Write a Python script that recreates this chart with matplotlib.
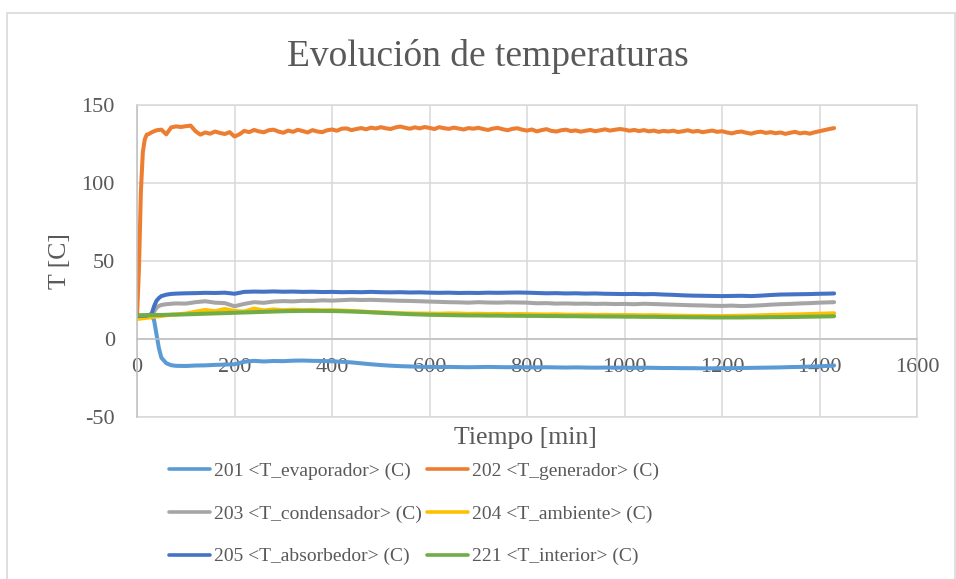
import numpy as np
import matplotlib
matplotlib.use('Agg')
import matplotlib.pyplot as plt
from matplotlib.patches import Rectangle

plt.rcParams['font.family'] = ['Liberation Serif', 'DejaVu Serif']
plt.rcParams['axes.unicode_minus'] = False
TXT = '#595959'

# tiempo [min] de las series lentas
t = [0, 10, 20, 30, 35, 40, 45, 50, 60, 70, 80,
     100, 120, 140, 160, 180, 200, 220, 240, 260, 280, 300, 320, 340, 360, 380,
     400, 420, 440, 460, 480, 500, 520, 540, 560, 580, 600,
     620, 640, 660, 680, 700, 720, 740, 760, 780,
     800, 820, 840, 860, 880, 900, 920, 940, 960, 980, 1000,
     1020, 1040, 1060, 1080, 1100, 1120, 1140, 1160, 1180, 1200,
     1220, 1240, 1260, 1280, 1300, 1320, 1340, 1360, 1380, 1400, 1420, 1430]

# tiempo [min] del generador (registro mas fino)
t_gen = [0, 4, 8, 12, 16, 20, 25] + list(range(30, 1431, 10))

t_evaporador = [14.5, 14.6, 14.8, 15.2, 12.0, 3.0, -6.0, -12.0, -15.5, -16.8, -17.2,
                -17.3, -17.0, -16.9, -16.6, -16.4, -16.2, -14.6, -14.0, -14.4, -14.1, -14.2, -13.9, -13.8,
                -14.0, -14.1, -14.3, -14.6, -15.0, -15.6, -16.2, -16.7, -17.1, -17.4, -17.6, -17.8, -17.9,
                -18.0, -17.9, -18.0, -18.1, -18.0, -17.9, -18.0, -18.1, -18.0,
                -18.1, -18.2, -18.1, -18.2, -18.3, -18.2, -18.3, -18.4, -18.3, -18.4, -18.4,
                -18.5, -18.4, -18.5, -18.6, -18.6, -18.7, -18.7, -18.8, -18.8, -18.7,
                -18.7, -18.6, -18.5, -18.4, -18.3, -18.2, -18.0, -17.9, -17.7, -17.5, -17.2, -17.0]

t_generador = [14.0, 45.0, 95.0, 120.0, 128.0, 131.0, 131.5,
               132.5, 133.8, 134.2, 131.2, 135.6, 136.3, 135.9,
               136.4, 136.8, 133.2, 131.0, 132.4, 131.6, 133.0, 132.1, 131.4, 132.6,
               129.8, 131.2, 133.4, 132.6, 134.0, 133.1, 132.5, 133.8, 134.2, 133.0,
               132.2, 133.6, 132.8, 134.1, 133.3, 132.4, 133.9, 133.0, 132.6, 133.8,
               134.3, 133.5, 134.8, 135.0, 133.9, 134.6, 135.2, 134.4, 135.5, 134.9,
               135.8, 135.1, 134.6, 135.6, 136.2, 135.4, 134.8, 135.7, 135.0, 135.9,
               135.3, 134.6, 135.8, 135.1, 134.7, 135.5, 134.9, 134.3, 135.2, 134.8,
               135.4, 134.6, 134.0, 134.9, 135.3, 134.5, 133.8, 134.7, 135.1, 134.2,
               133.6, 134.3, 133.1, 133.9, 134.5, 133.4, 133.0, 133.8, 134.2, 133.3,
               133.7, 132.9, 133.5, 134.0, 133.2, 133.8, 134.4, 133.6, 134.1, 134.6,
               134.2, 133.5, 134.0, 133.3, 133.9, 133.1, 133.6, 132.8, 133.4, 133.0,
               133.5, 132.7, 133.2, 133.8, 132.9, 133.4, 132.6, 133.1, 133.6, 132.8,
               133.2, 132.4, 131.8, 132.6, 133.0, 132.2, 131.6, 132.5, 132.9, 132.1,
               132.6, 131.9, 132.4, 131.5, 132.2, 132.8, 131.8, 132.3, 131.6, 132.5,
               133.2, 133.9, 134.6, 135.2]

t_condensador = [14.8, 14.9, 15.0, 15.3, 17.5, 20.0, 21.2, 21.8, 22.3, 22.6, 22.8,
                 22.7, 23.6, 24.2, 23.3, 23.0, 21.0, 22.5, 23.6, 23.2, 24.0, 24.3, 24.1, 24.5,
                 24.4, 24.8, 24.6, 24.9, 25.2, 25.0, 25.1, 24.9, 24.7, 24.5, 24.4, 24.2, 24.0,
                 23.8, 23.6, 23.5, 23.3, 23.6, 23.4, 23.3, 23.5, 23.4,
                 23.3, 22.9, 23.0, 22.7, 22.8, 22.6, 22.7, 22.5, 22.6, 22.4, 22.5,
                 22.3, 22.6, 22.4, 22.2, 22.0, 21.8, 21.6, 21.5, 21.3, 21.2,
                 21.4, 21.1, 21.3, 21.6, 22.0, 22.3, 22.5, 22.8, 23.0, 23.3, 23.5, 23.6]

t_ambiente = [12.8, 13.2, 13.6, 14.0, 14.2, 14.4, 14.6, 14.8, 15.2, 15.5, 15.8,
              16.3, 17.5, 18.6, 17.8, 19.2, 18.0, 17.6, 19.5, 18.3, 19.0, 18.4, 18.8, 18.5,
              18.7, 18.3, 18.5, 18.2, 18.0, 17.6, 17.3, 17.0, 16.8, 16.5, 16.4, 16.3, 16.3,
              16.2, 16.4, 16.3, 16.1, 16.2, 16.0, 16.1, 15.9, 16.0,
              15.9, 15.8, 15.7, 15.8, 15.6, 15.5, 15.6, 15.4, 15.5, 15.3, 15.4,
              15.3, 15.2, 15.3, 15.1, 15.0, 14.9, 14.8, 14.8, 14.7, 14.7,
              14.8, 14.9, 15.0, 15.2, 15.4, 15.5, 15.7, 15.8, 16.0, 16.2, 16.4, 16.5]

t_absorbedor = [14.8, 14.9, 15.0, 16.0, 21.0, 24.5, 26.3, 27.5, 28.4, 28.9, 29.1,
                29.3, 29.4, 29.6, 29.5, 29.7, 29.0, 30.2, 30.4, 30.3, 30.5, 30.3, 30.4, 30.2,
                30.3, 30.1, 30.2, 30.0, 30.1, 30.0, 30.2, 30.0, 29.9, 30.0, 29.8, 29.9, 29.7,
                29.6, 29.7, 29.5, 29.6, 29.5, 29.7, 29.6, 29.7, 29.8,
                29.7, 29.5, 29.3, 29.4, 29.2, 29.3, 29.1, 29.2, 29.0, 28.9, 28.8,
                28.9, 28.7, 28.8, 28.5, 28.3, 28.0, 27.8, 27.7, 27.6, 27.5,
                27.6, 27.7, 27.5, 27.8, 28.2, 28.5, 28.6, 28.7, 28.8, 29.0, 29.1, 29.2]

t_interior = [15.2, 15.2, 15.3, 15.3, 15.3, 15.4, 15.4, 15.4, 15.5, 15.6, 15.6,
              15.8, 16.0, 16.2, 16.4, 16.6, 16.8, 17.0, 17.2, 17.4, 17.6, 17.8, 17.9, 18.0,
              18.0, 18.0, 17.9, 17.8, 17.6, 17.4, 17.1, 16.8, 16.5, 16.2, 15.9, 15.7, 15.5,
              15.4, 15.3, 15.2, 15.1, 15.1, 15.0, 15.0, 14.9, 14.9,
              14.8, 14.8, 14.7, 14.7, 14.6, 14.6, 14.5, 14.5, 14.4, 14.4, 14.3,
              14.3, 14.2, 14.2, 14.1, 14.0, 14.0, 13.9, 13.9, 13.8, 13.8,
              13.8, 13.8, 13.9, 13.9, 14.0, 14.0, 14.1, 14.2, 14.3, 14.4, 14.5, 14.6]

series = [
    ('201 <T_evaporador> (C)', t, t_evaporador, '#5B9BD5'),
    ('202 <T_generador> (C)', t_gen, t_generador, '#ED7D31'),
    ('203 <T_condensador> (C)', t, t_condensador, '#A5A5A5'),
    ('204 <T_ambiente> (C)', t, t_ambiente, '#FFC000'),
    ('205 <T_absorbedor> (C)', t, t_absorbedor, '#4472C4'),
    ('221 <T_interior> (C)', t, t_interior, '#70AD47'),
]

fig = plt.figure(figsize=(9.56, 5.79), dpi=100)
ax = fig.add_axes([137 / 956, 1 - 417 / 579, 780 / 956, 312 / 579])

lines = []
for name, x, y, c in series:
    ln, = ax.plot(x, y, color=c, lw=2.9, label=name, solid_capstyle='round',
                  solid_joinstyle='round')
    lines.append(ln)

ax.set_xlim(0, 1600)
ax.set_ylim(-50, 150)
ax.set_xticks(np.arange(0, 1601, 200))
ax.set_yticks(np.arange(-50, 151, 50))
ax.grid(True, color='#D9D9D9', lw=1.1)
ax.set_axisbelow(True)
ax.axhline(-50, color='#D9D9D9', lw=1.1, clip_on=False, zorder=0)

for s in ('top', 'right'):
    ax.spines[s].set_color('#D9D9D9')
    ax.spines[s].set_linewidth(1.1)
ax.spines['bottom'].set_position(('data', 0))
ax.spines['bottom'].set_color('#BFBFBF')
ax.spines['bottom'].set_linewidth(1.1)
ax.spines['left'].set_color('#BFBFBF')
ax.spines['left'].set_linewidth(1.1)

ax.tick_params(length=0, labelsize=16, labelcolor=TXT)
ax.tick_params(axis='x', pad=14)
ax.tick_params(axis='y', pad=16)

fig.text(488 / 956, 1 - 57 / 579, 'Evolución de temperaturas', ha='center', va='center',
         fontsize=27, color=TXT)
fig.text(525 / 956, 1 - 438 / 579, 'Tiempo [min]', ha='center', va='center',
         fontsize=18.5, color=TXT)
fig.text(60 / 956, 1 - 261 / 579, 'T [C]', ha='center', va='center', rotation=90,
         fontsize=18.5, color=TXT)

# leyenda por filas: 201/202, 203/204, 205/221
order = [0, 2, 4, 1, 3, 5]
leg = fig.legend([lines[i] for i in order], [lines[i].get_label() for i in order],
                 ncol=2, loc='center', bbox_to_anchor=(414 / 956, 1 - 514 / 579),
                 bbox_transform=fig.transFigure, frameon=False, fontsize=14,
                 labelcolor=TXT, handlelength=2.1, handletextpad=0.2,
                 columnspacing=0.3, labelspacing=1.28, borderpad=0)
for h in leg.get_lines():
    h.set_linewidth(2.6)

fig.add_artist(Rectangle((7 / 956, -0.05), 948 / 956, 1 - 13 / 579 + 0.05,
                         transform=fig.transFigure, fill=False,
                         edgecolor='#D9D9D9', lw=1.2))

fig.savefig('out.png', dpi=100)
